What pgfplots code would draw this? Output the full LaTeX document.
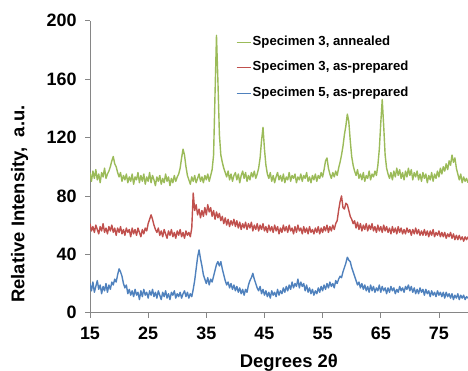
\documentclass[border=0pt]{standalone}
\usepackage{pgfplots}
\usepackage{pgfplotstable}
\pgfplotsset{compat=1.18}
\usepackage{fontspec}
\setmainfont{Liberation Sans}
\definecolor{specgreen}{RGB}{155,187,89}
\definecolor{specred}{RGB}{192,80,77}
\definecolor{specblue}{RGB}{79,129,189}
\definecolor{axgray}{RGB}{134,134,134}
\pgfplotstableread{
x g r b
15.00 96 61 20
15.25 90 56 15
15.50 97 59 21
15.75 92 55 14
16.00 98 60 18
16.25 91 57 22
16.50 95 54 16
16.75 89 59 19
17.00 96 56 13
17.25 93 61 18
17.50 99 55 15
17.75 92 58 20
18.00 95 54 14
18.25 97 59 19
18.50 100 56 16
18.75 104 60 21
19.00 107 55 19
19.25 102 58 23
19.50 100 53 21
19.75 96 58 26
20.00 93 55 30
20.25 96 59 28
20.50 90 54 25
20.75 94 57 20
21.00 91 53 17
21.25 95 58 19
21.50 89 55 13
21.75 93 57 16
22.00 90 52 12
22.25 95 58 15
22.50 88 54 11
22.75 93 57 16
23.00 91 53 12
23.25 96 58 14
23.50 89 55 9
23.75 94 52 15
24.00 90 57 11
24.25 95 54 16
24.50 88 58 12
24.75 93 56 14
25.00 90 61 10
25.25 96 64 15
25.50 89 67 12
25.75 94 64 16
26.00 91 60 11
26.25 87 57 14
26.50 93 55 10
26.75 90 58 15
27.00 94 53 12
27.25 88 56 9
27.50 92 52 14
27.75 89 57 11
28.00 95 54 15
28.25 90 51 10
28.50 93 56 13
28.75 87 53 9
29.00 92 57 14
29.25 89 52 12
29.50 94 55 15
29.75 90 51 10
30.00 93 56 13
30.25 95 53 11
30.50 99 57 14
30.75 106 52 10
31.00 112 55 13
31.25 108 51 15
31.50 100 56 11
31.75 94 53 14
32.00 91 55 10
32.25 88 52 13
32.50 93 58 11
32.75 90 82 16
33.00 94 70 22
33.25 89 74 30
33.50 92 67 38
33.75 95 71 43
34.00 90 65 37
34.25 93 70 32
34.50 89 66 26
34.75 94 72 23
35.00 91 67 20
35.25 95 74 24
35.50 90 69 19
35.75 94 72 23
36.00 98 66 21
36.25 108 70 25
36.50 150 64 29
36.75 190 69 33
37.00 158 65 35
37.25 122 68 32
37.50 108 63 35
37.75 103 66 30
38.00 99 61 26
38.25 96 65 22
38.50 93 60 19
38.75 97 64 21
39.00 91 59 17
39.25 95 63 20
39.50 90 60 16
39.75 94 64 19
40.00 96 59 15
40.25 91 63 18
40.50 95 58 14
40.75 89 62 17
41.00 94 57 13
41.25 97 61 16
41.50 92 58 12
41.75 96 62 16
42.00 90 57 14
42.25 94 61 19
42.50 91 58 22
42.75 96 62 24
43.00 93 56 27
43.25 97 60 23
43.50 92 57 20
43.75 95 61 17
44.00 99 56 15
44.25 106 60 18
44.50 118 57 13
44.75 127 61 16
45.00 112 56 12
45.25 101 59 15
45.50 95 55 11
45.75 92 60 14
46.00 96 56 10
46.25 90 59 15
46.50 94 55 12
46.75 89 60 14
47.00 93 56 11
47.25 96 59 16
47.50 91 54 12
47.75 94 58 15
48.00 90 55 13
48.25 95 60 17
48.50 89 56 14
48.75 93 59 18
49.00 91 55 15
49.25 96 60 19
49.50 90 56 16
49.75 94 58 21
50.00 92 54 17
50.25 95 59 20
50.50 89 55 18
50.75 93 60 23
51.00 91 56 17
51.25 95 58 21
51.50 90 54 18
51.75 94 59 20
52.00 92 55 15
52.25 96 58 19
52.50 90 54 14
52.75 93 59 17
53.00 89 55 13
53.25 94 57 16
53.50 91 54 12
53.75 95 58 15
54.00 90 55 13
54.25 94 59 17
54.50 92 54 14
54.75 96 58 18
55.00 93 55 15
55.25 98 59 19
55.50 104 56 16
55.75 106 60 20
56.00 99 55 17
56.25 95 59 21
56.50 92 56 18
56.75 96 60 20
57.00 93 57 17
57.25 97 61 22
57.50 94 63 20
57.75 99 70 23
58.00 103 76 25
58.25 108 80 24
58.50 114 72 28
58.75 122 71 31
59.00 128 75 34
59.25 136 74 38
59.50 131 70 36
59.75 118 66 35
60.00 107 64 31
60.25 101 61 28
60.50 97 63 25
60.75 94 58 22
61.00 98 62 19
61.25 92 57 21
61.50 95 61 17
61.75 91 56 20
62.00 96 60 16
62.25 90 57 19
62.50 94 61 15
62.75 92 56 18
63.00 97 60 14
63.25 91 57 19
63.50 95 61 15
63.75 93 56 18
64.00 97 59 14
64.25 94 55 17
64.50 101 60 15
64.75 112 56 19
65.00 130 59 14
65.25 146 55 18
65.50 128 60 15
65.75 108 56 17
66.00 99 59 13
66.25 95 55 17
66.50 92 58 14
66.75 96 54 18
67.00 91 59 15
67.25 97 55 17
67.50 93 58 13
67.75 99 54 16
68.00 94 59 14
68.25 98 55 18
68.50 92 58 15
68.75 96 54 17
69.00 91 57 14
69.25 97 54 18
69.50 93 58 16
69.75 99 55 19
70.00 94 57 15
70.25 98 53 18
70.50 91 57 14
70.75 96 54 17
71.00 93 58 13
71.25 97 54 16
71.50 91 57 13
71.75 95 53 17
72.00 90 56 14
72.25 96 53 16
72.50 92 57 12
72.75 95 53 16
73.00 89 56 13
73.25 94 52 15
73.50 91 56 11
73.75 96 53 15
74.00 90 57 12
74.25 95 52 14
74.50 92 55 11
74.75 97 53 15
75.00 93 56 12
75.25 99 52 14
75.50 95 55 11
75.75 100 52 14
76.00 97 55 10
76.25 102 51 14
76.50 98 54 11
76.75 104 52 13
77.00 101 55 10
77.25 108 51 13
77.50 103 54 9
77.75 106 50 12
78.00 99 53 10
78.25 95 50 13
78.50 91 53 9
78.75 95 50 12
79.00 89 52 10
79.25 93 49 12
79.50 90 52 9
79.75 92 50 11
80.00 89 52 10
}\xrd
\begin{document}
\begin{tikzpicture}
\begin{axis}[
  scale only axis,
  width=378bp, height=292bp,
  xmin=15, xmax=80, ymin=0, ymax=200,
  xtick={15,25,...,75}, ytick={0,40,...,200},
  axis lines*=left,
  axis line style={draw=axgray, line width=0.8bp},
  tick style={draw=axgray, line width=0.8bp},
  tick align=outside,
  major tick length=5bp,
  /pgf/number format/assume math mode=true,
  ticklabel style={font=\bfseries\fontsize{18}{20}\selectfont},
  xticklabel style={yshift=-6bp},
  yticklabel style={xshift=-5bp},
  label style={font=\bfseries\fontsize{18.5}{20}\selectfont},
  xlabel={Degrees 2θ},
  ylabel={Relative Intensity,\ \ a.u.},
  xlabel style={at={(axis description cs:0.526,-0.171)}, anchor=center},
  ylabel style={at={(axis description cs:-0.1865,0.372)}, anchor=center},
  every axis plot/.append style={line width=1.4bp, line join=round},
]
\addplot[draw=specgreen, no markers] table[x=x, y=g] {\xrd};
\addplot[draw=specred, no markers] table[x=x, y=r] {\xrd};
\addplot[draw=specblue, no markers] table[x=x, y=b] {\xrd};
% legend keys and texts
\draw[draw=specgreen, line width=1.5bp] (axis description cs:0.388,0.926) -- ++(14bp,0bp);
\draw[draw=specred, line width=1.5bp] (axis description cs:0.388,0.840) -- ++(14bp,0bp);
\draw[draw=specblue, line width=1.5bp] (axis description cs:0.388,0.751) -- ++(14bp,0bp);
\node[anchor=west, inner sep=0pt, text=black, font=\bfseries\fontsize{13.2}{15}\selectfont] at (axis description cs:0.4299,0.926) {Specimen 3, annealed};
\node[anchor=west, inner sep=0pt, text=black, font=\bfseries\fontsize{13.2}{15}\selectfont] at (axis description cs:0.4299,0.840) {Specimen 3, as-prepared};
\node[anchor=west, inner sep=0pt, text=black, font=\bfseries\fontsize{13.2}{15}\selectfont] at (axis description cs:0.4299,0.751) {Specimen 5, as-prepared};
\coordinate (ll) at (rel axis cs:0,0);
\coordinate (ur) at (rel axis cs:1,1);
\end{axis}
\pgfresetboundingbox
\path[use as bounding box] ([shift={(-90bp,-57.3bp)}]ll) rectangle ([shift={(0bp,20.7bp)}]ur);
\end{tikzpicture}
\end{document}
